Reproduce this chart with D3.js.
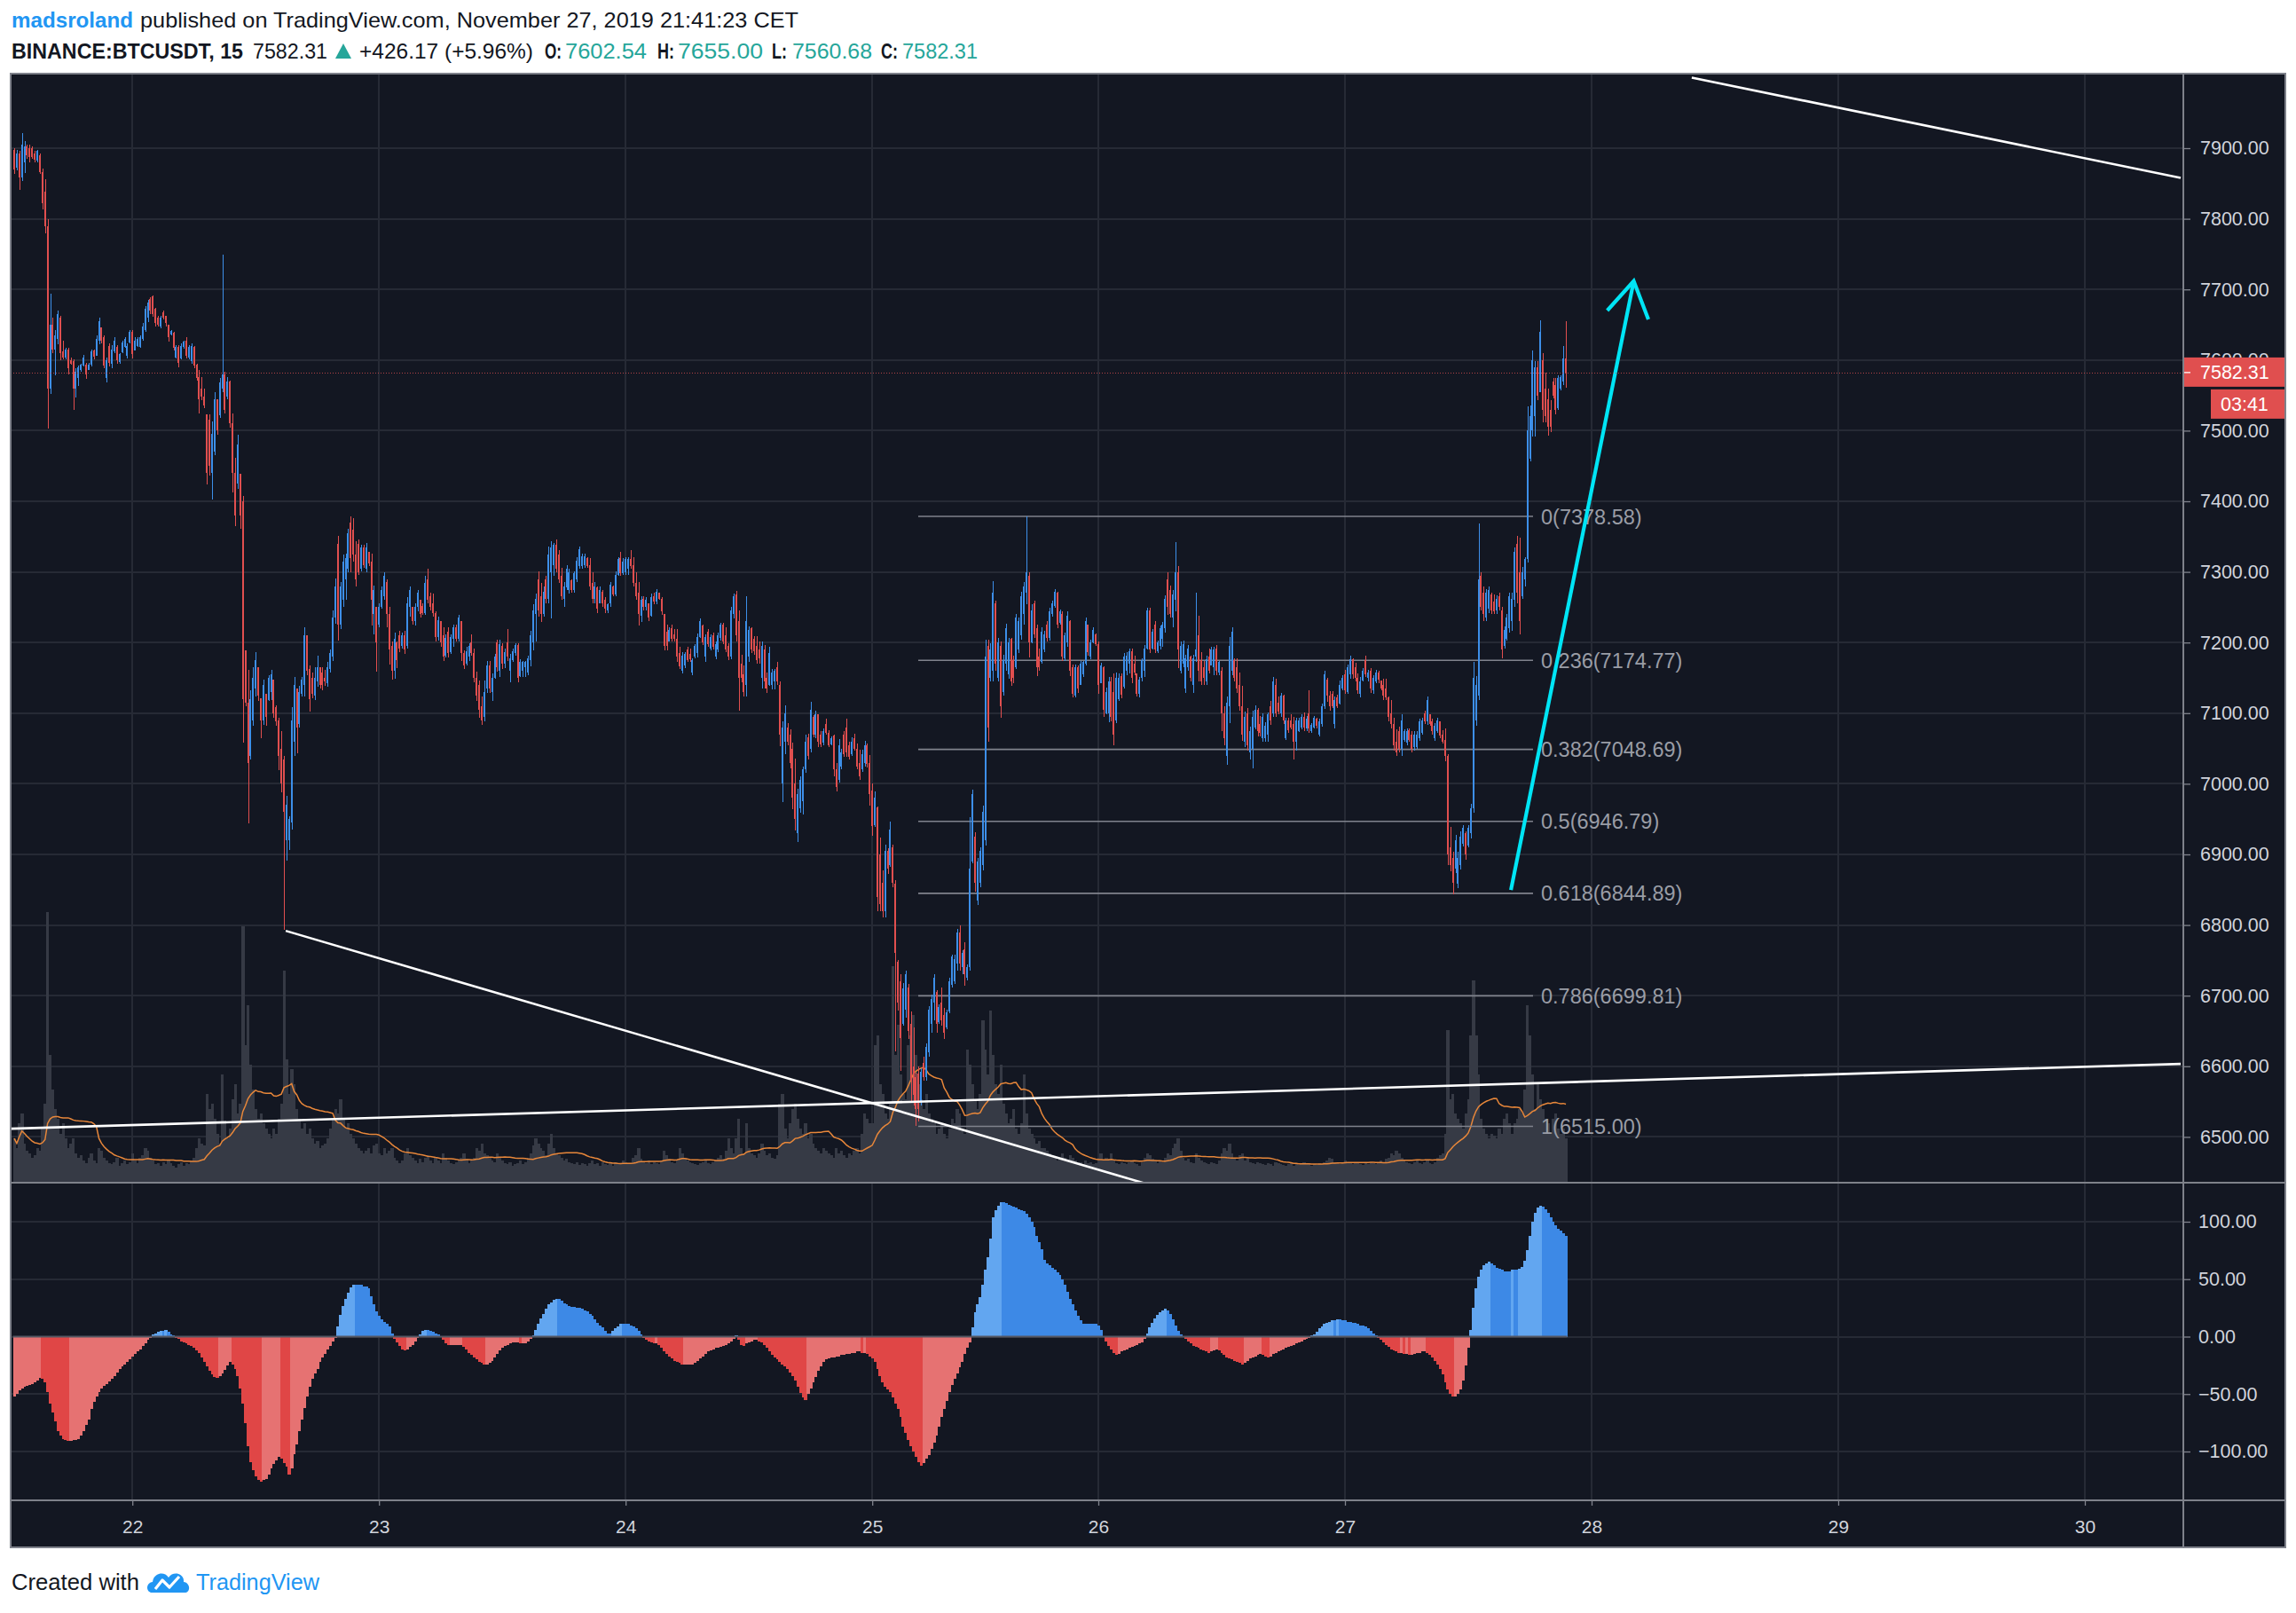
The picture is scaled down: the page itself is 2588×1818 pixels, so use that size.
<!DOCTYPE html>
<html><head><meta charset="utf-8"><title>BINANCE:BTCUSDT 15</title>
<script src="https://cdn.jsdelivr.net/npm/d3@7/dist/d3.min.js"></script>
<style>html,body{margin:0;padding:0;background:#fff;overflow:hidden}svg{display:block}</style>
</head><body><svg id="c" width="2588" height="1818"></svg>
<script>
// ---------------- DATA ----------------
// 15-minute candles [open, high, low, close], bar 0 = 21 Nov 12:30
const candles = [
/*0*/[7898,7900,7863,7870],[7872,7898,7868,7893],[7893,7896,7841,7858],[7858,7921,7854,7905],[7880,7910,7865,7903],
/*5*/[7903,7905,7885,7890],[7900,7905,7880,7887],[7900,7902,7885,7888],[7892,7896,7880,7884],[7882,7898,7880,7896],
/*10*/[7890,7892,7863,7866],[7866,7871,7813,7822],[7838,7856,7779,7790],[7790,7800,7503,7560],[7560,7694,7552,7650],
/*15*/[7650,7660,7610,7615],[7615,7643,7578,7635],[7630,7670,7622,7665],[7660,7662,7600,7610],[7612,7628,7601,7604],
/*20*/[7604,7617,7601,7615],[7615,7617,7580,7588],[7600,7604,7593,7595],[7598,7601,7529,7560],[7560,7588,7547,7584],
/*25*/[7575,7592,7563,7590],[7586,7595,7584,7593],[7592,7607,7591,7604],[7594,7596,7573,7580],[7586,7596,7586,7594],
/*30*/[7593,7615,7591,7612],[7614,7615,7601,7605],[7606,7635,7606,7630],[7628,7660,7622,7655],[7646,7646,7624,7628],
/*35*/[7632,7635,7588,7592],[7575,7604,7568,7600],[7620,7624,7591,7596],[7595,7621,7588,7615],[7612,7632,7610,7628],
/*40*/[7618,7621,7595,7600],[7597,7610,7595,7608],[7611,7628,7610,7625],[7618,7632,7617,7630],[7606,7624,7602,7620],
/*45*/[7625,7643,7624,7640],[7640,7643,7602,7608],[7614,7632,7613,7628],[7620,7633,7618,7630],[7619,7635,7617,7632],
/*50*/[7630,7652,7628,7648],[7642,7677,7640,7672],[7660,7685,7654,7682],[7686,7689,7665,7670],[7690,7692,7661,7665],
/*55*/[7672,7674,7648,7652],[7660,7663,7648,7650],[7648,7663,7645,7660],[7668,7670,7657,7660],[7662,7663,7648,7652],
/*60*/[7650,7650,7626,7632],[7636,7643,7635,7641],[7639,7640,7613,7617],[7604,7621,7602,7618],[7618,7621,7590,7596],
/*65*/[7602,7623,7601,7620],[7618,7628,7616,7626],[7628,7632,7602,7606],[7604,7621,7601,7618],[7598,7623,7595,7620],
/*70*/[7618,7620,7588,7592],[7594,7595,7571,7575],[7576,7586,7525,7545],[7560,7576,7543,7548],[7548,7560,7532,7536],
/*75*/[7523,7523,7424,7440],[7515,7523,7437,7450],[7440,7513,7402,7495],[7470,7554,7465,7545],[7545,7545,7494,7500],
/*80*/[7522,7574,7518,7568],[7560,7749,7554,7580],[7580,7584,7525,7530],[7548,7576,7545,7570],[7570,7571,7504,7510],
/*85*/[7510,7525,7412,7440],[7440,7462,7365,7380],[7425,7494,7418,7480],[7439,7439,7361,7380],[7400,7407,7058,7120],
/*90*/[7189,7189,7110,7115],[7115,7161,6944,7030],[7040,7132,7035,7120],[7090,7165,7082,7150],[7135,7186,7124,7175],
/*95*/[7165,7165,7117,7125],[7121,7121,7064,7090],[7090,7148,7084,7140],[7128,7128,7082,7095],[7118,7154,7117,7150],
/*100*/[7130,7161,7118,7155],[7148,7148,7093,7100],[7108,7111,7082,7088],[7090,7093,7019,7040],[7050,7074,6988,7000],
/*105*/[7035,7039,6793,6960],[6920,6983,6891,6970],[6920,6954,6906,6950],[6945,7108,6935,7090],[7060,7151,7039,7140],
/*110*/[7135,7135,7043,7080],[7085,7139,7080,7130],[7128,7151,7124,7148],[7140,7221,7124,7210],[7210,7210,7154,7160],
/*115*/[7162,7168,7102,7120],[7150,7157,7121,7128],[7125,7165,7118,7150],[7145,7182,7138,7165],[7165,7165,7135,7140],
/*120*/[7158,7165,7133,7140],[7150,7161,7139,7145],[7142,7172,7138,7165],[7162,7190,7157,7185],[7180,7246,7174,7235],
/*125*/[7235,7291,7227,7280],[7340,7351,7203,7225],[7225,7286,7219,7280],[7260,7324,7251,7315],[7290,7326,7260,7320],
/*130*/[7305,7361,7299,7355],[7370,7379,7299,7320],[7360,7376,7314,7325],[7325,7344,7279,7290],[7340,7346,7296,7300],
/*135*/[7305,7339,7301,7335],[7335,7339,7306,7310],[7305,7341,7299,7335],[7328,7329,7308,7312],[7315,7326,7224,7260],
/*140*/[7240,7281,7212,7275],[7250,7251,7159,7200],[7225,7256,7222,7250],[7250,7279,7248,7275],[7265,7299,7260,7295],
/*145*/[7286,7290,7222,7240],[7240,7251,7169,7190],[7195,7201,7147,7160],[7160,7214,7149,7205],[7200,7201,7164,7175],
/*150*/[7210,7216,7186,7192],[7195,7214,7192,7210],[7210,7216,7184,7190],[7195,7264,7192,7255],[7250,7279,7237,7275],
/*155*/[7250,7251,7226,7230],[7230,7256,7224,7250],[7250,7274,7244,7270],[7260,7261,7235,7240],[7252,7256,7239,7242],
/*160*/[7242,7294,7239,7285],[7290,7304,7256,7260],[7265,7271,7246,7250],[7255,7269,7237,7242],[7242,7244,7202,7208],
/*165*/[7208,7237,7203,7232],[7230,7231,7194,7200],[7210,7222,7174,7180],[7182,7211,7179,7206],[7215,7222,7179,7185],
/*170*/[7186,7211,7184,7208],[7205,7226,7194,7222],[7222,7226,7201,7205],[7205,7239,7201,7235],[7230,7231,7174,7185],
/*175*/[7185,7189,7162,7168],[7170,7194,7168,7188],[7180,7199,7174,7195],[7200,7211,7181,7185],[7185,7191,7144,7150],
/*180*/[7150,7159,7117,7125],[7140,7146,7094,7105],[7110,7124,7084,7090],[7095,7146,7089,7130],[7135,7174,7129,7168],
/*185*/[7168,7174,7129,7135],[7130,7156,7117,7150],[7150,7184,7149,7180],[7200,7204,7159,7165],[7160,7204,7151,7198],
/*190*/[7195,7199,7162,7170],[7170,7191,7164,7186],[7200,7219,7174,7180],[7160,7184,7144,7178],[7175,7191,7172,7188],
/*195*/[7185,7199,7181,7196],[7196,7199,7144,7150],[7152,7177,7151,7172],[7160,7174,7151,7172],[7165,7174,7151,7172],
/*200*/[7158,7181,7154,7178],[7175,7216,7166,7210],[7200,7254,7189,7245],[7240,7269,7201,7262],[7290,7301,7237,7245],
/*205*/[7265,7284,7229,7240],[7240,7279,7237,7272],[7290,7294,7256,7262],[7262,7336,7256,7325],[7300,7344,7234,7335],
/*210*/[7310,7341,7294,7338],[7338,7346,7299,7305],[7325,7331,7284,7290],[7295,7306,7261,7266],[7262,7286,7251,7280],
/*215*/[7278,7309,7274,7305],[7275,7304,7269,7300],[7288,7289,7271,7274],[7274,7301,7271,7298],[7290,7321,7286,7316],
/*220*/[7308,7336,7304,7332],[7308,7326,7304,7322],[7310,7326,7306,7322],[7320,7321,7306,7308],[7310,7319,7274,7280],
/*225*/[7285,7299,7256,7262],[7262,7286,7256,7280],[7278,7279,7242,7248],[7256,7279,7256,7275],[7272,7274,7251,7256],
/*230*/[7260,7264,7242,7248],[7246,7256,7242,7254],[7255,7286,7251,7282],[7280,7281,7266,7268],[7268,7301,7266,7296],
/*235*/[7296,7321,7294,7318],[7320,7329,7294,7298],[7298,7319,7296,7315],[7300,7321,7296,7318],[7305,7321,7296,7318],
/*240*/[7318,7331,7304,7308],[7310,7321,7279,7285],[7285,7299,7261,7266],[7270,7286,7224,7240],[7238,7266,7229,7260],
/*245*/[7262,7266,7246,7250],[7250,7264,7246,7260],[7256,7256,7231,7236],[7238,7269,7237,7264],[7266,7271,7254,7258],
/*250*/[7258,7276,7254,7272],[7270,7271,7260,7262],[7262,7264,7239,7244],[7240,7241,7189,7195],[7215,7226,7189,7195],
/*255*/[7202,7222,7201,7218],[7220,7226,7201,7205],[7212,7219,7201,7205],[7205,7219,7172,7180],[7185,7194,7162,7166],
/*260*/[7160,7186,7156,7182],[7168,7186,7164,7184],[7190,7194,7172,7175],[7184,7191,7172,7176],[7158,7178,7154,7175],
/*265*/[7180,7198,7178,7195],[7185,7213,7179,7208],[7208,7234,7206,7230],[7224,7226,7196,7200],[7180,7212,7172,7208],
/*270*/[7215,7219,7194,7198],[7192,7211,7189,7208],[7210,7214,7190,7194],[7180,7201,7177,7198],[7190,7214,7186,7210],
/*275*/[7206,7228,7203,7225],[7225,7228,7198,7202],[7210,7222,7186,7190],[7195,7199,7175,7180],[7180,7250,7176,7245],
/*280*/[7240,7269,7234,7265],[7268,7273,7201,7210],[7230,7246,7104,7150],[7170,7183,7144,7150],[7155,7167,7124,7130],
/*285*/[7140,7266,7124,7230],[7180,7223,7172,7218],[7220,7222,7185,7190],[7205,7209,7183,7188],[7195,7209,7170,7175],
/*290*/[7190,7201,7170,7178],[7150,7201,7135,7195],[7190,7196,7135,7145],[7150,7158,7129,7135],[7140,7194,7139,7185],
/*295*/[7140,7163,7134,7158],[7145,7163,7134,7160],[7165,7173,7140,7145],[7140,7145,7053,7070],[7000,7089,6974,7080],
/*300*/[7060,7111,7042,7100],[7080,7086,7054,7060],[7070,7077,7022,7030],[7050,7058,6964,6980],[7000,7036,6934,6950],
/*305*/[6930,6993,6917,6985],[6965,7011,6959,7005],[6975,7024,6956,7020],[7020,7069,7015,7060],[7066,7071,7035,7040],
/*310*/[7050,7116,7045,7105],[7095,7097,7066,7070],[7070,7103,7065,7098],[7098,7099,7052,7060],[7070,7074,7052,7056],
/*315*/[7058,7079,7054,7075],[7085,7092,7069,7072],[7072,7076,7052,7055],[7056,7067,7054,7064],[7068,7069,7011,7020],
/*320*/[7020,7030,6989,6995],[7005,7063,7002,7055],[7025,7050,7020,7045],[7070,7074,7038,7042],[7080,7092,7038,7045],
/*325*/[7055,7060,7034,7038],[7042,7066,7040,7060],[7065,7071,7047,7050],[7050,7057,7020,7025],[7030,7048,7005,7010],
/*330*/[7020,7048,7017,7042],[7030,7061,7024,7055],[7055,7057,7023,7028],[7030,7041,6969,6985],[6990,7001,6926,6940],
/*335*/[6942,6989,6939,6980],[6966,6968,6819,6840],[6900,6924,6819,6830],[6860,6877,6811,6820],[6820,6914,6811,6905],
/*340*/[6905,6909,6872,6880],[6885,6946,6882,6935],[6910,6914,6854,6860],[6858,6864,6621,6760],[6748,6750,6679,6690],
/*345*/[6720,6731,6594,6640],[6660,6718,6658,6710],[6680,6736,6669,6730],[6712,6716,6639,6650],[6660,6678,6550,6580],
/*350*/[6600,6655,6545,6560],[6585,6591,6515,6540],[6590,6600,6522,6540],[6550,6597,6545,6592],[6605,6614,6580,6585],
/*355*/[6585,6633,6580,6628],[6620,6685,6614,6680],[6660,6701,6648,6695],[6690,6731,6665,6725],[6705,6708,6647,6660],
/*360*/[6662,6688,6660,6684],[6690,6711,6657,6665],[6672,6683,6639,6648],[6655,6680,6653,6676],[6678,6726,6675,6720],
/*365*/[6715,6758,6712,6755],[6720,6758,6716,6752],[6745,6794,6736,6790],[6790,6800,6736,6745],[6740,6764,6731,6760],
/*370*/[6765,6776,6714,6730],[6725,6744,6721,6740],[6740,6953,6736,6880],[6890,6992,6887,6985],[6925,6931,6847,6860],
/*375*/[6835,6895,6828,6890],[6860,6910,6854,6905],[6885,6969,6877,6960],[6920,7204,6913,7180],[7195,7204,7060,7080],
/*380*/[7150,7199,7145,7190],[7160,7287,7145,7270],[7255,7259,7160,7170],[7150,7206,7145,7200],[7195,7201,7094,7110],
/*385*/[7130,7183,7125,7175],[7170,7227,7160,7220],[7155,7206,7149,7200],[7205,7206,7139,7145],[7175,7181,7143,7150],
/*390*/[7165,7241,7162,7235],[7190,7235,7185,7230],[7210,7272,7204,7265],[7240,7286,7226,7280],[7270,7379,7254,7300],
/*395*/[7295,7299,7179,7200],[7200,7254,7199,7245],[7255,7259,7207,7212],[7220,7226,7152,7165],[7180,7192,7160,7165],
/*400*/[7172,7222,7170,7215],[7190,7217,7187,7212],[7225,7231,7202,7206],[7206,7249,7203,7244],[7240,7259,7237,7256],
/*405*/[7252,7276,7249,7272],[7270,7272,7220,7225],[7228,7247,7226,7244],[7240,7244,7174,7180],[7178,7214,7174,7210],
/*410*/[7200,7244,7194,7238],[7231,7232,7152,7160],[7165,7169,7122,7128],[7125,7169,7122,7165],[7165,7167,7129,7135],
/*415*/[7140,7174,7140,7170],[7155,7174,7151,7172],[7170,7236,7167,7230],[7225,7226,7181,7186],[7180,7204,7176,7200],
/*420*/[7200,7222,7199,7218],[7212,7213,7195,7198],[7198,7202,7127,7140],[7142,7171,7142,7168],[7165,7166,7095,7105],
/*425*/[7100,7136,7098,7130],[7100,7151,7087,7145],[7145,7151,7089,7095],[7130,7156,7054,7070],[7090,7158,7086,7150],
/*430*/[7120,7156,7117,7150],[7152,7156,7121,7126],[7138,7185,7135,7180],[7160,7186,7154,7182],[7170,7191,7156,7188],
/*435*/[7188,7191,7142,7150],[7170,7181,7154,7158],[7156,7156,7124,7128],[7128,7151,7122,7148],[7150,7178,7145,7175],
/*440*/[7160,7196,7151,7192],[7192,7249,7190,7245],[7245,7249,7185,7190],[7192,7219,7190,7215],[7225,7231,7185,7190],
/*445*/[7188,7203,7185,7200],[7195,7224,7190,7220],[7205,7229,7194,7225],[7220,7267,7214,7262],[7290,7299,7239,7250],
/*450*/[7275,7281,7235,7240],[7235,7274,7222,7268],[7260,7342,7244,7300],[7300,7308,7164,7190],[7160,7201,7156,7195],
/*455*/[7170,7203,7165,7198],[7135,7183,7129,7178],[7165,7196,7160,7192],[7180,7181,7145,7150],[7140,7183,7129,7178],
/*460*/[7180,7271,7173,7190],[7210,7238,7145,7160],[7175,7186,7140,7145],[7165,7174,7140,7150],[7145,7181,7140,7176],
/*465*/[7180,7191,7156,7160],[7168,7194,7167,7190],[7165,7194,7154,7190],[7192,7196,7154,7160],[7158,7174,7154,7172],
/*470*/[7160,7165,7074,7100],[7100,7110,7054,7065],[7040,7124,7027,7115],[7110,7208,7086,7195],[7160,7221,7154,7215],
/*475*/[7175,7178,7145,7150],[7165,7178,7129,7135],[7140,7158,7104,7110],[7110,7139,7061,7070],[7060,7102,7052,7095],
/*480*/[7100,7107,7047,7055],[7045,7081,7034,7075],[7050,7104,7022,7095],[7080,7111,7077,7105],[7105,7107,7067,7075],
/*485*/[7085,7096,7067,7072],[7065,7100,7059,7095],[7065,7087,7059,7082],[7070,7101,7059,7098],[7110,7117,7084,7090],
/*490*/[7100,7151,7095,7145],[7140,7149,7095,7100],[7115,7124,7099,7102],[7100,7129,7095,7125],[7125,7126,7085,7090],
/*495*/[7065,7094,7062,7090],[7090,7094,7072,7076],[7090,7099,7077,7080],[7085,7095,7034,7060],[7060,7094,7047,7090],
/*500*/[7075,7094,7073,7090],[7080,7099,7077,7095],[7095,7101,7074,7080],[7078,7096,7074,7092],[7100,7133,7072,7078],
/*505*/[7075,7086,7072,7084],[7080,7096,7079,7093],[7092,7094,7079,7082],[7070,7092,7067,7088],[7085,7114,7081,7110],
/*510*/[7110,7160,7106,7155],[7148,7150,7116,7125],[7125,7131,7104,7110],[7128,7131,7107,7110],[7085,7124,7079,7118],
/*515*/[7122,7126,7107,7110],[7114,7146,7112,7140],[7135,7154,7132,7150],[7155,7161,7127,7132],[7130,7169,7127,7165],
/*520*/[7155,7181,7149,7176],[7176,7178,7149,7155],[7165,7171,7145,7150],[7150,7156,7127,7132],[7128,7151,7122,7145],
/*525*/[7146,7164,7145,7160],[7175,7181,7151,7155],[7150,7161,7145,7158],[7160,7164,7129,7135],[7132,7154,7127,7150],
/*530*/[7145,7161,7142,7158],[7158,7160,7142,7148],[7146,7146,7132,7135],[7140,7149,7119,7125],[7135,7149,7119,7122],
/*535*/[7122,7124,7089,7095],[7100,7119,7079,7085],[7085,7094,7047,7055],[7060,7077,7040,7045],[7075,7081,7045,7050],
/*540*/[7050,7099,7040,7090],[7062,7077,7059,7074],[7058,7079,7054,7075],[7076,7078,7059,7062],[7070,7075,7045,7050],
/*545*/[7052,7074,7047,7070],[7052,7074,7049,7070],[7065,7092,7061,7088],[7072,7094,7070,7090],[7100,7104,7085,7088],
/*550*/[7088,7124,7084,7118],[7098,7099,7082,7085],[7088,7092,7070,7074],[7065,7086,7061,7082],[7075,7094,7072,7090],
/*555*/[7088,7089,7064,7068],[7070,7076,7057,7060],[7062,7078,7032,7040],[7040,7042,6885,6900],[6910,6939,6876,6885],
/*560*/[6895,6904,6844,6860],[6880,6928,6874,6920],[6858,6904,6852,6895],[6885,6933,6879,6925],[6915,6942,6911,6938],
/*565*/[6930,6933,6892,6900],[6912,6942,6910,6938],[6930,6971,6923,6965],[6965,7172,6959,7150],[7090,7153,7082,7140],
/*570*/[7125,7368,7119,7290],[7295,7300,7245,7250],[7270,7280,7231,7240],[7235,7276,7231,7270],[7248,7279,7242,7275],
/*575*/[7268,7271,7240,7245],[7258,7268,7240,7244],[7245,7267,7240,7262],[7265,7271,7245,7250],[7245,7251,7178,7190],
/*580*/[7195,7223,7192,7218],[7205,7240,7203,7235],[7220,7271,7214,7265],[7230,7271,7217,7262],[7260,7335,7251,7328],
/*585*/[7340,7351,7256,7270],[7300,7349,7212,7230],[7265,7307,7262,7300],[7290,7321,7280,7318],[7318,7534,7313,7500],
/*590*/[7460,7536,7456,7520],[7500,7613,7492,7600],[7520,7599,7492,7590],[7590,7599,7543,7550],[7555,7656,7554,7640],
/*595*/[7600,7610,7512,7530],[7560,7582,7512,7520],[7545,7560,7493,7505],[7530,7543,7498,7505],[7570,7574,7546,7550],
/*600*/[7565,7574,7523,7530],[7532,7579,7529,7575],[7560,7579,7557,7576],[7570,7620,7565,7602],[7602.54,7655,7560.68,7582.31]
];

// volume per bar (BTC)
const volumes = [
/*0*/900,700,1200,1400,800,650,600,500,550,700,
/*10*/650,1100,1600,5500,2600,1900,1500,1300,1000,1200,
/*20*/900,700,800,900,600,500,550,450,400,500,
/*30*/600,450,400,700,650,500,450,400,380,420,
/*40*/500,350,400,450,380,420,600,450,400,500,
/*50*/550,700,650,500,450,380,400,350,420,380,
/*60*/450,400,350,300,380,420,350,400,380,450,
/*70*/500,700,900,800,750,1800,1500,1600,1300,1000,
/*80*/800,2200,1200,900,1100,1700,2000,1400,1600,5200,
/*90*/2800,3600,2400,1900,1500,1300,1400,1200,1100,1000,
/*100*/900,1100,1000,1300,1600,4300,2500,1800,2300,2000,
/*110*/1500,1300,1100,1200,1000,1100,900,800,850,700,
/*120*/750,800,900,1100,1300,1500,1400,1700,1300,1100,
/*130*/1200,1000,900,800,700,650,600,650,700,600,
/*140*/750,800,600,550,700,600,650,700,500,450,
/*150*/400,450,600,700,550,500,450,400,480,420,
/*160*/500,550,450,400,500,450,400,600,500,450,
/*170*/400,380,420,450,500,600,480,400,450,500,
/*180*/700,650,800,600,550,500,450,420,600,500,
/*190*/450,400,380,420,350,380,400,450,380,420,
/*200*/500,600,750,900,800,700,650,550,800,1000,
/*210*/700,600,550,500,450,480,420,400,380,420,
/*220*/360,400,380,350,400,450,380,400,350,420,
/*230*/380,360,400,350,420,380,400,450,420,400,
/*240*/380,500,550,700,480,420,400,450,380,420,
/*250*/400,380,450,650,550,480,420,400,450,700,
/*260*/600,500,450,420,400,380,360,400,420,450,
/*270*/400,380,420,450,500,550,480,650,900,700,
/*280*/600,900,1300,700,600,1200,700,600,550,500,
/*290*/600,800,650,550,600,500,480,550,1600,1800,
/*300*/1100,900,1200,1500,1600,1300,1100,1000,1200,900,
/*310*/1000,800,700,650,600,700,650,600,550,500,
/*320*/700,600,650,550,500,600,550,650,700,600,
/*330*/1000,1400,1300,1200,1200,2800,3000,2000,1800,1400,
/*340*/1300,1600,4400,2600,3200,2200,1800,1700,2800,3000,
/*350*/3400,2600,2000,1700,1500,1800,1400,1300,1200,1000,
/*360*/1100,1200,1000,900,1100,1300,1200,1500,1400,1100,
/*370*/1000,2700,2400,2000,1700,1500,1800,3300,2700,2200,
/*380*/3500,2600,2000,1800,2400,1600,1400,1200,1300,1500,
/*390*/1100,1000,1200,2200,1400,1100,1000,900,800,850,
/*400*/700,700,650,600,550,500,450,480,600,500,
/*410*/450,550,500,450,400,420,380,450,400,420,
/*420*/380,400,500,600,450,500,480,600,450,400,
/*430*/380,420,400,380,420,450,400,380,350,420,
/*440*/500,600,550,480,450,400,450,420,500,600,
/*450*/550,700,800,900,650,500,450,480,420,400,
/*460*/600,500,450,420,400,380,420,400,380,450,
/*470*/600,700,650,800,600,500,450,550,600,450,
/*480*/500,420,400,380,420,400,380,360,400,380,
/*490*/350,420,400,380,360,340,380,400,350,380,
/*500*/360,400,420,380,400,350,380,360,400,380,
/*510*/420,450,500,480,420,400,380,420,450,420,
/*520*/400,380,420,400,380,360,400,380,420,400,
/*530*/380,420,450,400,480,500,600,550,650,600,
/*540*/500,450,420,400,380,420,450,400,380,420,
/*550*/450,400,380,420,500,550,600,1000,3100,1700,
/*560*/1800,1400,1300,1200,1100,1400,1700,3000,4100,3000,
/*570*/2200,1300,1100,1000,900,1000,950,900,1100,1000,
/*580*/1300,1400,1200,1000,1200,1300,1500,1400,1900,3600,
/*590*/3000,2200,1500,2000,1700,1500,1300,1200,1000,1300,
/*600*/1400,1100,1000,1100,900
];

// momentum histogram (lower pane)
const osc = [
/*0*/-52,-50,-47,-45,-44,-43,-42,-41,-40,-38,
/*10*/-36,-37,-40,-48,-58,-66,-74,-82,-86,-89,
/*20*/-90,-91,-91,-90,-90,-89,-86,-82,-77,-72,
/*30*/-63,-57,-52,-48,-45,-43,-41,-39,-37,-34,
/*40*/-31,-28,-26,-24,-22,-20,-17,-15,-13,-11,
/*50*/-8,-6,-3,-1,2,3,4,5,5,6,
/*60*/4,2,1,-1,-2,-4,-5,-6,-7,-8,
/*70*/-10,-12,-14,-18,-22,-26,-30,-33,-35,-36,
/*80*/-34,-32,-29,-25,-22,-24,-28,-34,-45,-58,
/*90*/-75,-95,-109,-116,-122,-125,-126,-125,-124,-120,
/*100*/-115,-111,-108,-105,-106,-110,-113,-120,-115,-102,
/*110*/-94,-82,-72,-62,-52,-44,-37,-32,-28,-22,
/*120*/-18,-15,-11,-8,-4,-1,9,19,27,33,
/*130*/38,43,45,45,45,45,44,44,42,35,
/*140*/28,22,18,15,13,11,9,3,-2,-5,
/*150*/-8,-11,-12,-11,-9,-7,-4,-1,2,5,
/*160*/6,6,5,4,3,2,0,-3,-6,-7,
/*170*/-7,-7,-7,-7,-7,-9,-11,-14,-16,-18,
/*180*/-20,-22,-23,-24,-24,-23,-21,-18,-15,-12,
/*190*/-10,-8,-7,-6,-5,-5,-5,-6,-6,-6,
/*200*/-4,-2,1,6,11,16,20,24,28,30,
/*210*/32,33,33,31,29,28,27,26,26,25,
/*220*/25,24,23,22,20,18,15,12,10,8,
/*230*/5,3,3,5,7,9,11,11,11,11,
/*240*/10,9,7,5,2,-1,-3,-4,-5,-6,
/*250*/-6,-7,-10,-13,-15,-17,-19,-21,-22,-23,
/*260*/-24,-24,-24,-24,-24,-23,-21,-19,-17,-15,
/*270*/-13,-12,-11,-10,-10,-9,-8,-7,-6,-4,
/*280*/-2,1,-3,-7,-8,-6,-5,-4,-3,-3,
/*290*/-4,-5,-7,-10,-13,-16,-18,-20,-22,-24,
/*300*/-26,-28,-31,-34,-38,-44,-49,-53,-55,-50,
/*310*/-45,-40,-35,-30,-26,-22,-20,-19,-18,-18,
/*320*/-17,-17,-16,-16,-15,-15,-14,-14,-13,-13,
/*330*/-14,-14,-15,-17,-19,-22,-28,-34,-40,-44,
/*340*/-46,-48,-53,-58,-63,-70,-78,-84,-90,-95,
/*350*/-100,-105,-109,-112,-110,-106,-103,-98,-92,-86,
/*360*/-78,-70,-63,-56,-48,-42,-37,-32,-27,-22,
/*370*/-15,-10,-5,8,21,28,34,45,58,69,
/*380*/85,104,110,114,117,117,116,115,114,113,
/*390*/112,111,110,109,107,104,100,95,88,82,
/*400*/76,67,64,62,60,58,56,54,50,45,
/*410*/39,33,28,23,18,14,11,11,11,11,
/*420*/11,11,10,6,0,-4,-8,-11,-14,-16,
/*430*/-15,-13,-12,-11,-10,-9,-8,-7,-6,-5,
/*440*/-2,3,8,12,16,19,21,23,24,23,
/*450*/20,15,10,5,2,0,-2,-4,-6,-8,
/*460*/-9,-10,-11,-12,-13,-14,-13,-12,-11,-12,
/*470*/-14,-16,-18,-19,-20,-21,-22,-23,-24,-23,
/*480*/-21,-19,-18,-17,-16,-15,-16,-17,-18,-17,
/*490*/-15,-14,-13,-12,-11,-10,-9,-8,-7,-6,
/*500*/-5,-4,-3,-2,-1,1,2,4,7,9,
/*510*/11,12,13,14,14,15,15,14,14,13,
/*520*/13,12,12,11,10,10,9,7,5,3,
/*530*/1,-1,-3,-5,-7,-9,-11,-12,-13,-14,
/*540*/-14,-15,-15,-16,-16,-15,-14,-14,-13,-13,
/*550*/-14,-16,-18,-21,-24,-28,-33,-40,-46,-50,
/*560*/-52,-52,-50,-46,-38,-25,-10,6,25,42,
/*570*/52,58,62,64,65,64,62,60,59,58,
/*580*/57,57,57,58,58,58,59,61,66,75,
/*590*/88,100,108,112,114,113,111,108,104,100,
/*600*/97,94,92,90,88
];

const dayLabels = ["22","23","24","25","26","27","28","29","30"];
const dayBars   = [46,142,238,334,422,518,614,710,806];
const priceTicks = [6500,6600,6700,6800,6900,7000,7100,7200,7300,7400,7500,7600,7700,7800,7900];
const oscTicks = [100,50,0,-50,-100];

const fibRatios = ["0","0.236","0.382","0.5","0.618","0.786","1"];
const fibPrices = [7378.58,7174.77,7048.69,6946.79,6844.89,6699.81,6515.00];
const fibFromBar = 351.9, fibToBar = 591.2;

// hand-drawn lines: [barIndex, price]
const trendLines = [
  [[653.0,7999.9],[843.3,7857.8]],
  [[105.7,6791.8],[445.0,6429.0]],
  [[-1.04,6511.6],[843.3,6603.4]]
];
const arrowShaft = [[582.6,6849.6],[630.4,7711.8]];
const arrowHead  = [[620.1,7670.1],[630.4,7711.8],[636.1,7657.5]];

const lastPrice = 7582.31;
const countdown = "03:41";
const headerLine1 = ["madsroland","published on TradingView.com, November 27, 2019 21:41:23 CET"];
const headerLine2 = ["BINANCE:BTCUSDT, 15","7582.31","+426.17 (+5.96%)","O:","7602.54","H:","7655.00","L:","7560.68","C:","7582.31"];
const footer = ["Created with","TradingView"];

// ---------------- LAYOUT ----------------
const W = 2588, H = 1818;
const L = 12, R = 2576, T = 83, B = 1744;
const PX = 2461, MB = 1333, OB = 1691;
const FONT = "'Liberation Sans', Arial, sans-serif";
const UP = "#3d8fe9", DN = "#e14f4f";

const svg = d3.select("#c");
svg.append("rect").attr("width",W).attr("height",H).attr("fill","#ffffff");
svg.append("rect").attr("x",L).attr("y",T).attr("width",R-L).attr("height",B-T).attr("fill","#131722");

const defs = svg.append("defs");
defs.append("clipPath").attr("id","cm").append("rect").attr("x",L).attr("y",T).attr("width",PX-L).attr("height",MB-T);
defs.append("clipPath").attr("id","co").append("rect").attr("x",L).attr("y",MB).attr("width",PX-L).attr("height",OB-MB);

const x = d3.scaleLinear().domain([0,806]).range([16,2350]);
const step = x(1)-x(0);
const y = d3.scaleLinear().domain([6500,7900]).range([1281.4,167]);
const yv = d3.scaleLinear().domain([0,6000]).range([MB, MB-333]);
const yo = d3.scaleLinear().domain([-100,100]).range([1636,1377]);

// grid
const grid = svg.append("g").attr("stroke","#262a35").attr("stroke-width",1.3).attr("shape-rendering","crispEdges");
priceTicks.forEach(p=>grid.append("line").attr("x1",L).attr("x2",PX).attr("y1",Math.round(y(p))).attr("y2",Math.round(y(p))));
oscTicks.forEach(v=>grid.append("line").attr("x1",L).attr("x2",PX).attr("y1",Math.round(yo(v))).attr("y2",Math.round(yo(v))));
dayBars.forEach(d=>grid.append("line").attr("x1",Math.round(x(d))).attr("x2",Math.round(x(d))).attr("y1",T).attr("y2",OB));

// volume
const main = svg.append("g").attr("clip-path","url(#cm)");
main.append("g").attr("shape-rendering","crispEdges").selectAll("rect").data(volumes).join("rect")
  .attr("x",(d,i)=>x(i)-step/2).attr("width",step+0.4)
  .attr("y",d=>yv(d)).attr("height",d=>MB-yv(d)).attr("fill","#363a45");
const volMA = volumes.map((v,i)=>d3.mean(volumes.slice(Math.max(0,i-19),i+1)));
main.append("path").datum(volMA).attr("fill","none").attr("stroke","#e8873a").attr("stroke-width",1.5)
  .attr("d",d3.line().x((d,i)=>x(i)).y(d=>yv(d)));

// fib retracement
const fib = main.append("g");
fibPrices.forEach((p,k)=>{
  fib.append("line").attr("x1",x(fibFromBar)).attr("x2",x(fibToBar)).attr("y1",y(p)).attr("y2",y(p))
    .attr("stroke","#80838d").attr("stroke-width",1.6);
});

// candles
const cg = main.append("g").attr("shape-rendering","crispEdges");
const col = d=>d[3]>=d[0]?UP:DN;
cg.selectAll("rect.w").data(candles).join("rect").attr("class","w")
  .attr("x",(d,i)=>Math.round(x(i))).attr("width",1)
  .attr("y",d=>y(Math.max(d[1],d[0],d[3])))
  .attr("height",d=>Math.max(1,y(Math.min(d[2],d[0],d[3]))-y(Math.max(d[1],d[0],d[3]))))
  .attr("fill",col);
cg.selectAll("rect.b").data(candles).join("rect").attr("class","b")
  .attr("x",(d,i)=>Math.round(x(i))-1).attr("width",2)
  .attr("y",d=>y(Math.max(d[0],d[3])))
  .attr("height",d=>Math.max(1,y(Math.min(d[0],d[3]))-y(Math.max(d[0],d[3]))))
  .attr("fill",col);

// fib labels
fibPrices.forEach((p,k)=>{
  main.append("text").attr("x",x(fibToBar)+9).attr("y",y(p)).attr("dy","0.36em")
    .attr("font-family",FONT).attr("font-size",23.5).attr("fill","#9a9da6")
    .text(fibRatios[k]+"("+d3.format(".2f")(p)+")");
});

// trend lines
const ln = d3.line().x(d=>x(d[0])).y(d=>y(d[1]));
trendLines.forEach(t=>main.append("path").attr("d",ln(t)).attr("stroke","#ffffff").attr("stroke-width",2.6).attr("fill","none"));
main.append("path").attr("d",ln(arrowShaft)).attr("stroke","#00e5f5").attr("stroke-width",4.2).attr("fill","none");
main.append("path").attr("d",ln(arrowHead)).attr("stroke","#00e5f5").attr("stroke-width",4.2).attr("fill","none").attr("stroke-linejoin","miter");

// last price line
main.append("line").attr("x1",L).attr("x2",PX).attr("y1",Math.round(y(lastPrice))+0.5).attr("y2",Math.round(y(lastPrice))+0.5)
  .attr("stroke","#d04a4d").attr("stroke-width",1).attr("stroke-dasharray","1,2").attr("opacity",0.85);

// oscillator
const og = svg.append("g").attr("clip-path","url(#co)");
const oscCol = (v,i)=>{const p=i>0?osc[i-1]:v; return v>=0 ? (v>p?"#62a6f0":"#3d89e6") : (v<p?"#e04646":"#e67272");};
og.append("g").attr("shape-rendering","crispEdges").selectAll("rect").data(osc).join("rect")
  .attr("x",(d,i)=>x(i)-step/2).attr("width",step+0.4)
  .attr("y",d=>Math.min(yo(d),yo(0))).attr("height",d=>Math.abs(yo(d)-yo(0)))
  .attr("fill",(d,i)=>oscCol(d,i));
og.append("line").attr("x1",x(0)-step/2).attr("x2",x(osc.length-1)+step/2).attr("y1",yo(0)).attr("y2",yo(0))
  .attr("stroke","#545762").attr("stroke-width",2);

// axes
const styleAxis = g=>{
  g.select(".domain").remove();
  g.selectAll(".tick line").attr("stroke","#80838d").attr("stroke-width",1.3);
  g.selectAll(".tick text").attr("fill","#d1d4dc");
  g.attr("font-family",FONT).attr("font-size",21.5);
};
svg.append("g").attr("transform",`translate(${PX},0)`)
  .call(d3.axisRight(y).tickValues(priceTicks).tickFormat(d3.format(".2f")).tickSize(8).tickPadding(11)).call(styleAxis);
svg.append("g").attr("transform",`translate(${PX},0)`)
  .call(d3.axisRight(yo).tickValues(oscTicks).tickFormat(d3.format(".2f")).tickSize(8).tickPadding(9)).call(styleAxis);
const xa = svg.append("g").attr("transform",`translate(0,${OB})`)
  .call(d3.axisBottom(x).tickValues(dayBars).tickFormat((d,i)=>dayLabels[i]).tickSize(6).tickPadding(16)).call(styleAxis);
xa.attr("font-size",21);

// price label boxes (the last-price box covers part of the 7600.00 label, as in the source)
const py = y(lastPrice);
svg.append("rect").attr("x",PX-1).attr("y",py-17).attr("width",R-PX).attr("height",33).attr("fill","#e04f4f");
svg.append("line").attr("x1",PX).attr("x2",PX+8).attr("y1",py).attr("y2",py).attr("stroke","#ffffff").attr("stroke-width",1.3);
svg.append("text").attr("x",PX+19).attr("y",py).attr("dy","0.35em").attr("font-family",FONT).attr("font-size",21.5)
  .attr("fill","#ffffff").text(d3.format(".2f")(lastPrice));
svg.append("rect").attr("x",2492).attr("y",py+19).attr("width",R-2492).attr("height",33).attr("fill","#e04f4f");
svg.append("text").attr("x",2503).attr("y",py+35.5).attr("dy","0.35em").attr("font-family",FONT).attr("font-size",21.5)
  .attr("fill","#ffffff").text(countdown);

// frame / separators
const fr = svg.append("g").attr("stroke","#7e818a").attr("stroke-width",2).attr("fill","none");
fr.append("rect").attr("x",L).attr("y",T).attr("width",R-L).attr("height",B-T);
fr.append("line").attr("x1",L).attr("x2",R).attr("y1",MB).attr("y2",MB);
fr.append("line").attr("x1",L).attr("x2",R).attr("y1",OB).attr("y2",OB);
fr.append("line").attr("x1",PX).attr("x2",PX).attr("y1",T).attr("y2",B);

// header
const hd = svg.append("g").attr("font-family",FONT).attr("font-size",24);
hd.append("text").attr("x",13).attr("y",31).attr("fill","#2196f3").attr("font-weight",700)
  .attr("textLength",137).attr("lengthAdjust","spacingAndGlyphs").text(headerLine1[0]);
hd.append("text").attr("x",158).attr("y",31).attr("fill","#131722")
  .attr("textLength",742).attr("lengthAdjust","spacingAndGlyphs").text(headerLine1[1]);
const l2x = [13,285,405,614,637,741,764,870,893,993,1017];
const l2w = [261,84,196,19,92,19,96,17,90,19,85];
const bold = new Set([0,3,5,7,9]), green = new Set([4,6,8,10]);
headerLine2.forEach((t,k)=>{
  hd.append("text").attr("x",l2x[k]).attr("y",66).attr("font-weight",bold.has(k)?700:400)
    .attr("fill",green.has(k)?"#26a69a":"#131722")
    .attr("textLength",l2w[k]).attr("lengthAdjust","spacingAndGlyphs").text(t);
});
hd.append("path").attr("d","M378,66 L387,49 L396,66 Z").attr("fill","#26a69a");

// footer
const ft = svg.append("g").attr("font-family",FONT).attr("font-size",26);
ft.append("text").attr("x",13).attr("y",1792).attr("fill","#131722").attr("textLength",144).attr("lengthAdjust","spacingAndGlyphs").text(footer[0]);
ft.append("text").attr("x",221).attr("y",1792).attr("fill","#2196f3").attr("textLength",139).attr("lengthAdjust","spacingAndGlyphs").text(footer[1]);
const lg = ft.append("g").attr("transform","translate(166,1769)");
lg.append("path").attr("d","M6,26 C-2,26 -2,15 6,14 C7,4 19,1 24,9 C29,1 42,4 41,14 C49,15 49,26 42,26 Z").attr("fill","#2196f3");
lg.append("polyline").attr("points","9,22 17,12 25,20 36,8").attr("fill","none").attr("stroke","#ffffff").attr("stroke-width",3.2).attr("stroke-linejoin","round");
</script></body></html>
